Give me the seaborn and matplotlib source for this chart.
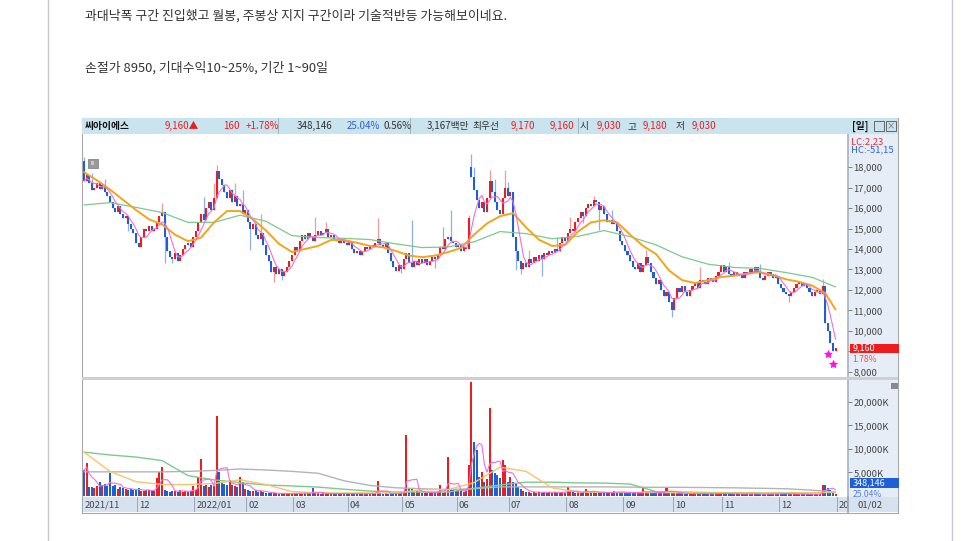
import matplotlib
matplotlib.use('Agg')
import matplotlib.pyplot as plt
import matplotlib.transforms as mtransforms
from matplotlib.patches import Rectangle
from matplotlib.lines import Line2D
import numpy as np
import pandas as pd
import seaborn as sns

sns.set_theme(style='white')
plt.rcParams['font.family'] = ['Noto Sans CJK KR', 'DejaVu Sans']

W, H = 966, 541
RED = '#ee1d1d'
BLUE = '#1f5fd6'
RED_WICK = '#f39a9a'
BLUE_WICK = '#8fb0ec'
PINK = '#f070d8'
ORANGE = '#f2a51c'
GREEN = '#7cc98e'
GRAY = '#b4b4b4'
TXT = '#333333'

# daily closes (won), 2021/11 -> 2022/12/30
close = [
    17300, 17600, 17200, 16900, 17000, 17200, 16950, 17100, 16800, 16600,
    16300, 16000, 15800, 16100, 15700, 15500, 15600, 15200, 15000, 14800,
    14300, 14100, 14600, 15000, 14900, 15100, 14900, 15000, 15300, 15600,
    15800, 14600, 13900, 13600, 13500, 13800, 13400, 13700, 14000, 14200,
    14300, 14100, 14600, 14900, 15300, 15700, 15400, 16000, 16300, 15900,
    16500, 17800, 17400, 17100, 16800, 16500, 16900, 16300, 16600, 16100,
    16200, 15700, 15900, 15300, 15000, 15200, 14700, 14500, 14800, 14200,
    13700, 13400, 12900, 13100, 12800, 13000, 12700, 12900, 13100, 13400,
    13700, 14100, 13900, 14400, 14700, 14500, 14800, 14600, 14400, 14700,
    14900, 14700, 14800, 15000, 14600, 14700, 14500, 14400, 14300, 14500,
    14300, 14200, 14400, 14000, 13800, 13900, 13700, 13900, 14100, 14000,
    14200, 14100, 14300, 14500, 14200, 14100, 14300, 13800, 13400, 13100,
    12950, 13200, 13000, 13500, 13800, 13300, 13100, 13400, 13200, 13500,
    13300, 13500, 13200, 13400, 13600, 13500, 13700, 14100, 14000, 14500,
    14600, 14400, 14300, 14100, 14200, 13900, 14100, 14000, 15500, 17500,
    16900, 16400, 16000, 16300, 15800, 16500, 17300, 16800, 16300, 15900,
    15700, 16500, 17000, 16600, 16800, 14600, 13900, 13400, 13000, 13300,
    13100, 13500, 13300, 13600, 13400, 13700, 13500, 13800, 13700, 13900,
    13800, 14000, 13900, 14300, 14600, 14400, 14800, 15000, 14900, 15300,
    15500, 15800, 15600, 16000, 16200, 16100, 16400, 16300, 15900, 16100,
    15700, 15300, 15400, 15200, 15300, 14900, 14400, 14200, 13900, 13700,
    13400, 13100, 13000, 13300, 12900, 13200, 13600, 13300, 12900, 12600,
    12300, 12500, 12000, 11700, 11900, 11400, 11000, 11600, 12100, 11900,
    12200, 11900, 11700, 12000, 12200, 12400, 12100, 12500, 12400, 12300,
    12600, 12500, 12400, 12700, 12900, 13200, 12900, 13100, 12800, 12700,
    12900, 12700, 12800, 12600, 12900, 12800, 13000, 12900, 13100, 12900,
    12600, 12500, 12700, 12900, 12800, 12600, 12700, 12300, 12100, 11900,
    11800, 11700, 11900, 12100, 12300, 12400, 12200, 12300, 12100, 11900,
    11700, 11900, 12000, 11800, 12200, 10400, 10000, 9400, 9000, 9160,
]

# daily volume (thousand shares)
volume = [
    5400, 6900, 1800, 1900, 1700, 2000, 2900, 2200, 2500, 2000,
    4800, 2000, 2200, 1500, 1800, 1600, 1400, 1300, 1500, 1200,
    1200, 1600, 1100, 1000, 1200, 1300, 1000, 1100, 3700, 5000,
    6100, 1300, 1000, 900, 1100, 1000, 900, 1300, 800, 1000,
    900, 1000, 2000, 1200, 3900, 7800, 2000, 2400, 1800, 2200,
    2000, 17100, 5000, 3000, 2600, 2200, 3300, 2400, 2000, 1800,
    3900, 3000, 1400, 1200, 1000, 1100, 1300, 900, 1000, 800,
    700, 600, 500, 600, 500, 400, 500, 600, 500, 400,
    500, 600, 700, 500, 400, 500, 600, 500, 1600, 600,
    500, 400, 600, 500, 400, 500, 400, 500, 600, 400,
    500, 400, 500, 600, 400, 500, 400, 500, 400, 500,
    400, 600, 500, 3100, 500, 400, 500, 400, 600, 500,
    600, 500, 700, 500, 12900, 1500, 1400, 900, 1100, 800,
    700, 600, 700, 800, 600, 700, 900, 2400, 700, 900,
    8200, 1200, 1400, 1000, 1300, 1100, 900, 1000, 6500, 24200,
    11400, 9700, 4000, 5000, 3000, 3500, 18600, 5400, 4800, 4400,
    3700, 7600, 6500, 3000, 3900, 3000, 2500, 1800, 1400, 1000,
    800, 900, 700, 800, 700, 900, 600, 800, 700, 900,
    700, 800, 600, 700, 800, 700, 1800, 900, 800, 700,
    800, 700, 900, 1500, 700, 800, 900, 700, 800, 600,
    700, 600, 800, 700, 1000, 600, 900, 700, 800, 600,
    700, 600, 800, 700, 600, 1600, 700, 600, 800, 700,
    600, 700, 800, 700, 1800, 900, 700, 600, 700, 600,
    500, 400, 500, 400, 500, 600, 400, 500, 400, 500,
    400, 500, 400, 500, 600, 500, 400, 500, 400, 500,
    400, 500, 400, 300, 400, 500, 400, 500, 400, 300,
    400, 300, 400, 500, 400, 300, 400, 400, 700, 400,
    400, 300, 400, 500, 400, 300, 400, 300, 400, 300,
    300, 400, 300, 400, 2200, 2200, 1600, 1200, 900, 348,
]
last_volume_shares = 348146
vol_turnover = '25.04%'

open_override = {0: 18300, 149: 18000, 289: 9030}
wick_high = {0: 18500, 3: 17700, 8: 17400, 30: 16250, 46: 16550, 50: 17200, 51: 18100,
             58: 17200, 61: 16900, 68: 15700, 89: 15550, 93: 15300, 113: 15500,
             126: 15400, 138: 15070, 141: 15900, 148: 15650, 149: 18650, 150: 18000,
             156: 17850, 158: 17400, 162: 17850, 163: 17250, 171: 13950, 182: 14580,
             187: 15550, 196: 16600, 203: 15900, 216: 13950, 237: 13120, 248: 13390,
             260: 13250, 284: 12540, 289: 9180}
wick_low = {17: 14900, 31: 13300, 34: 13300, 64: 13950, 73: 12400, 76: 12500,
            122: 12850, 135: 13070, 166: 12970, 168: 12800, 176: 12700, 192: 15270,
            198: 14930, 226: 10700, 271: 11400}

ma20_idx = list(range(0, 290, 5)) + [289]
ma20 = [17750, 17350, 16900, 16400, 15900, 15450, 15200, 14700, 14380, 14550,
        15300, 15850, 15850, 15450, 14900, 14250, 13850, 14000, 14150, 14440,
        14440, 14300, 14150, 14080, 13900, 13680, 13600, 13680, 13850, 14050,
        14700, 15250, 15600, 15750, 15050, 14450, 14150, 14200, 14850, 15300,
        15400, 15300, 14700, 14150, 13750, 12950, 12480, 12340, 12480, 12630,
        12700, 12800, 12870, 12720, 12520, 12400, 12220, 11850, 11050]

ma_idx = list(range(0, 290, 10)) + [289]
ma60 = [16150, 16260, 16030, 15780, 15300, 15300, 15650, 15350, 14650, 14560,
        14520, 14460, 14250, 14070, 14100, 14350, 14850, 14750, 14500, 14620,
        14900, 14600, 14200, 13620, 13260, 13100, 13050, 12850, 12620, 12150]
vol_ma20 = [9300, 5200, 3000, 2400, 2400, 2600, 3400, 2400, 900, 650,
            600, 600, 600, 1300, 1300, 2800, 6100, 5200, 1700, 800,
            750, 700, 700, 650, 600, 600, 600, 600, 650, 800]
vol_ma60 = [9300, 8700, 8250, 7500, 4300, 3400, 2800, 2300, 2100, 1850,
            1400, 1000, 800, 800, 800, 1600, 2300, 2900, 2900, 2750,
            2700, 2500, 900, 800, 700, 650, 620, 600, 650, 700]
vol_ma120 = [5100, 5100, 5100, 5100, 5200, 5400, 5700, 5500, 5200, 4800,
             3200, 2200, 1700, 1500, 1350, 1500, 1900, 1900, 1900, 1900,
             1900, 1850, 1800, 1800, 1750, 1700, 1600, 1500, 1200, 800]

signal_idx = [286, 288]
signal_price = [8900, 8400]

month_idx = [0, 21, 43, 63, 81, 102, 123, 144, 164, 186, 208, 227, 246, 268, 290]
month_labels = ['2021/11', '12', '2022/01', '02', '03', '04', '05', '06',
                '07', '08', '09', '10', '11', '12', '202']

price_ticks = list(range(8000, 18001, 1000))
vol_ticks = [5000, 10000, 15000, 20000]

# ---- frame
df = pd.DataFrame({'idx': np.arange(len(close)), 'close': close, 'volume': volume})
df['open'] = df['close'].shift(1)
for k, v in open_override.items():
    df.loc[k, 'open'] = v
df['ma5'] = df['close'].rolling(5, min_periods=1).mean()
df['vma5'] = df['volume'].rolling(5, min_periods=1).mean()
df['top'] = df[['open', 'close']].max(axis=1)
df['bot'] = df[['open', 'close']].min(axis=1)
df['high'] = [max(t, wick_high.get(i, t)) for i, t in enumerate(df['top'])]
df['low'] = [min(b, wick_low.get(i, b)) for i, b in enumerate(df['bot'])]
up = df['close'] >= df['open']
vol_up = df['close'] >= df['close'].shift(1).fillna(df['open'])

ma20_df = pd.DataFrame({'idx': ma20_idx, 'ma20': ma20})
ma_df = pd.DataFrame({'idx': ma_idx, 'ma60': ma60,
                      'v20': vol_ma20, 'v60': vol_ma60, 'v120': vol_ma120})


def box(x0, y0, x1, y1):
    return [x0 / W, 1 - y1 / H, (x1 - x0) / W, (y1 - y0) / H]


def blank(ax, fc):
    ax.set_facecolor(fc)
    ax.set_xticks([])
    ax.set_yticks([])
    for s in ax.spines.values():
        s.set_visible(False)


fig = plt.figure(figsize=(W / 100, H / 100), dpi=100)
fig.patch.set_facecolor('white')

# page text + page borders
fig.text(85 / W, 1 - 16 / H, '과대낙폭 구간 진입했고 월봉, 주봉상 지지 구간이라 기술적반등 가능해보이네요.',
         fontsize=9.3, va='center', ha='left', color=TXT)
fig.text(85 / W, 1 - 68 / H, '손절가 8950, 기대수익10~25%, 기간 1~90일',
         fontsize=9.3, va='center', ha='left', color=TXT)
fig.add_artist(Line2D([48 / W, 48 / W], [0, 1], color='#c8c8c8', lw=1))
fig.add_artist(Line2D([952 / W, 952 / W], [0, 1], color='#c8c8dc', lw=1))

# chart frame
ax_bg = fig.add_axes(box(82, 118, 898, 513))
blank(ax_bg, 'white')
for s in ax_bg.spines.values():
    s.set_visible(True)
    s.set_color('#a8a8a8')
    s.set_linewidth(0.8)

ax_col = fig.add_axes(box(848, 134, 898, 497))
blank(ax_col, '#e7edf6')
ax_col.spines['left'].set_visible(True)
ax_col.spines['left'].set_color('#a9b4c4')

# header bar
ax_h = fig.add_axes(box(82, 118, 898, 134))
blank(ax_h, '#c9e3ef')
ax_h.set_xlim(82, 898)
ax_h.set_ylim(0, 1)
head = [(85, '씨아이에스', '#111111', 'bold'), (165, '9,160▲', RED, 'normal'),
        (223, '160', RED, 'normal'), (246, '+1.78%', RED, 'normal'),
        (297, '348,146', TXT, 'normal'), (347, '25.04%', '#2f63d0', 'normal'),
        (383, '0.56%', TXT, 'normal'), (427, '3,167백만', TXT, 'normal'),
        (472, '최우선', TXT, 'normal'), (511, '9,170', RED, 'normal'),
        (550, '9,160', RED, 'normal'), (580, '시', TXT, 'normal'),
        (597, '9,030', RED, 'normal'), (627, '고', TXT, 'normal'),
        (643, '9,180', RED, 'normal'), (676, '저', TXT, 'normal'),
        (692, '9,030', RED, 'normal'), (852, '[일]', '#111111', 'bold')]
for x, t, c, w in head:
    ax_h.text(x, 0.5, t, color=c, fontsize=7, fontweight=w, va='center', ha='left')
for x in [278, 410, 578]:
    ax_h.axvline(x, color='#9fb4c0', lw=0.7)
for x in [874, 886]:
    ax_h.add_patch(Rectangle((x, 0.2), 10, 0.6, fill=False, ec='#666666', lw=0.7))
ax_h.text(891, 0.5, '×', fontsize=6, color='#666666', ha='center', va='center')

# price panel
ax_p = fig.add_axes(box(82, 134, 848, 378))
ax_p.set_facecolor('none')
ax_p.vlines(df['idx'], df['low'], df['high'],
            colors=np.where(up, RED_WICK, BLUE_WICK), lw=0.9, zorder=2)
ax_p.bar(df['idx'], np.maximum(df['top'] - df['bot'], 45), bottom=df['bot'],
         width=0.78, color=np.where(up, RED, BLUE), linewidth=0, zorder=3)
sns.lineplot(data=ma_df, x='idx', y='ma60', ax=ax_p, color=GREEN, lw=0.9, zorder=4)
sns.lineplot(data=ma20_df, x='idx', y='ma20', ax=ax_p, color=ORANGE, lw=1.4, zorder=4)
sns.lineplot(data=df, x='idx', y='ma5', ax=ax_p, color=PINK, lw=0.8, zorder=4)
ax_p.scatter(signal_idx, signal_price, marker=(5, 1, 0), s=45, color='#ff14e6',
             zorder=5, linewidths=0)
ax_p.set_xlim(-0.77, 293.8)
ax_p.set_ylim(7707, 19610)
ax_p.set_xlabel('')
ax_p.set_ylabel('')
ax_p.set_xticks([])
ax_p.yaxis.tick_right()
ax_p.set_yticks(price_ticks)
last_close = df['close'].iloc[-1]
# the current-price tag hides the tick label it sits on
ax_p.set_yticklabels(['' if abs(v - last_close) < 500 else f'{v:,}' for v in price_ticks])
ax_p.tick_params(axis='y', labelsize=6.8, length=3, width=0.6, color='#707070',
                 labelcolor='#444444', pad=1, direction='out', right=True)
for s in ax_p.spines.values():
    s.set_visible(False)
ax_p.add_patch(Rectangle((0.008, 0.86), 0.013, 0.037, transform=ax_p.transAxes,
                         fc='#999999', ec='#777777', lw=0.5, zorder=6))
ax_p.text(0.0145, 0.878, 'III', transform=ax_p.transAxes, fontsize=3.5, color='white',
          ha='center', va='center', zorder=7)

tr_p = mtransforms.blended_transform_factory(ax_p.transAxes, ax_p.transData)
last_chg = (df['close'].iloc[-1] / df['close'].iloc[-2] - 1) * 100
ax_p.add_patch(Rectangle((1.003, last_close - 230), 0.063, 460, transform=tr_p,
                         fc='#ee1d1d', ec='none', clip_on=False, zorder=6))
ax_p.text(1.006, last_close, f'{last_close:,}', transform=tr_p, color='white',
          fontsize=6.5, va='center', ha='left', zorder=7)
ax_p.text(1.006, last_close - 560, f'{last_chg:.2f}%', transform=tr_p,
          color='#f05050', fontsize=6.2, va='center', ha='left', zorder=7)
ax_p.text(1.004, 0.97, 'LC:2,23', transform=ax_p.transAxes, color='#e83030',
          fontsize=6.8, va='center', ha='left')
ax_p.text(1.004, 0.935, 'HC:-51,15', transform=ax_p.transAxes, color='#2f63d0',
          fontsize=6.8, va='center', ha='left')

# separator between panels
ax_sep = fig.add_axes(box(82, 377, 898, 380))
blank(ax_sep, '#cfcfcf')

# volume panel
ax_v = fig.add_axes(box(82, 380, 848, 497))
ax_v.set_facecolor('none')
ax_v.bar(df['idx'], df['volume'], width=0.78, color=np.where(vol_up, RED, BLUE),
         linewidth=0, zorder=2)
sns.lineplot(data=ma_df, x='idx', y='v120', ax=ax_v, color=GRAY, lw=1.0, zorder=3)
sns.lineplot(data=ma_df, x='idx', y='v60', ax=ax_v, color=GREEN, lw=1.0, zorder=3)
sns.lineplot(data=ma_df, x='idx', y='v20', ax=ax_v, color='#f7c46a', lw=1.0, zorder=3)
sns.lineplot(data=df, x='idx', y='vma5', ax=ax_v, color=PINK, lw=0.8, zorder=3)
ax_v.set_xlim(-0.77, 293.8)
ax_v.set_ylim(-255, 24660)
ax_v.set_xlabel('')
ax_v.set_ylabel('')
ax_v.set_xticks([])
ax_v.yaxis.tick_right()
ax_v.set_yticks(vol_ticks)
ax_v.set_yticklabels([f'{v:,}K' for v in vol_ticks])
ax_v.tick_params(axis='y', labelsize=6.8, length=3, width=0.6, color='#707070',
                 labelcolor='#444444', pad=1, direction='out', right=True)
for s in ax_v.spines.values():
    s.set_visible(False)
ax_v.add_patch(Rectangle((1.003, 0.08), 0.063, 0.085, transform=ax_v.transAxes,
                         fc='#1f5fd6', ec='none', clip_on=False, zorder=6))
ax_v.text(1.006, 0.122, f'{last_volume_shares:,}', transform=ax_v.transAxes,
          color='white', fontsize=6.5, va='center', ha='left', zorder=7)
ax_v.text(1.006, 0.025, vol_turnover, transform=ax_v.transAxes, color='#4f7fe0',
          fontsize=6.2, va='center', ha='left', zorder=7)
ax_v.add_patch(Rectangle((1.056, 0.92), 0.009, 0.055, transform=ax_v.transAxes,
                         fc='#8a8a8a', ec='none', clip_on=False, zorder=6))

# date bar
ax_d = fig.add_axes(box(82, 497, 848, 512))
blank(ax_d, '#d6e2f0')
ax_d.set_xlim(-0.77, 293.8)
ax_d.set_ylim(0, 1)
for i, lab in zip(month_idx, month_labels):
    ax_d.axvline(i - 0.6, color='#9aa6b6', lw=0.7)
    ax_d.text(i + 0.2, 0.45, lab, fontsize=6.8, color='#444444', va='center', ha='left')
ax_dr = fig.add_axes(box(848, 497, 898, 512))
blank(ax_dr, '#d6e2f0')
ax_dr.spines['left'].set_visible(True)
ax_dr.spines['left'].set_color('#9aa6b6')
ax_dr.text(0.18, 0.45, '01/02', transform=ax_dr.transAxes, fontsize=6.8,
           color='#444444', va='center', ha='left')

fig.savefig('out.png', dpi=100)
